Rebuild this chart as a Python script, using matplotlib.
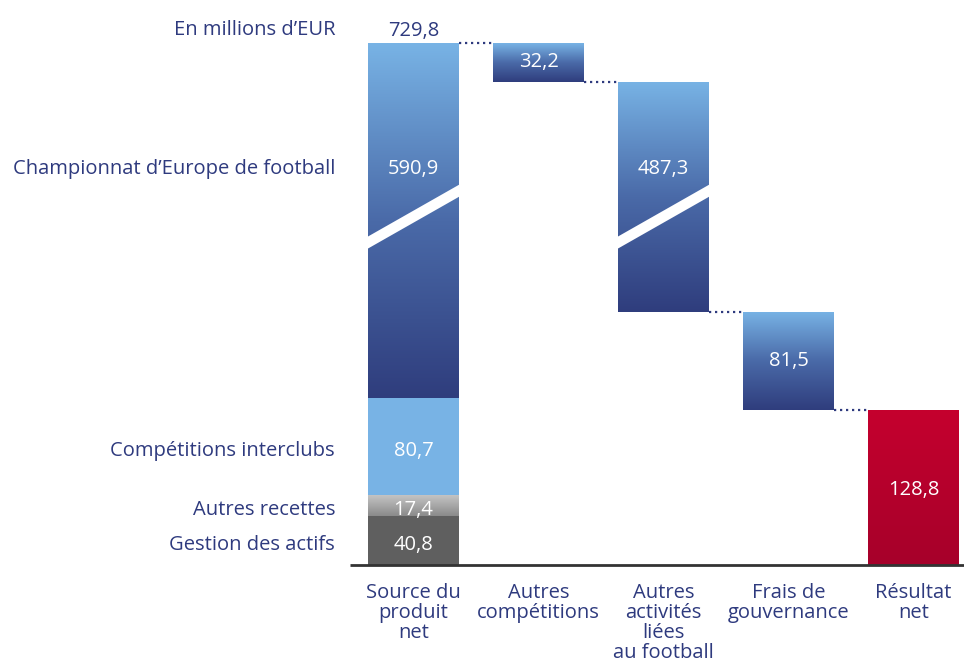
import matplotlib
matplotlib.use("Agg")
import matplotlib.pyplot as plt
import numpy as np
from matplotlib.colors import LinearSegmentedColormap
from matplotlib.patches import Polygon

plt.rcParams['font.family'] = ['Open Sans', 'DejaVu Sans']

# data (millions EUR)
unit_label = "En millions d’EUR"
source_labels = ["Gestion des actifs", "Autres recettes", "Compétitions interclubs",
                 "Championnat d’Europe de football"]
source_values = [40.8, 17.4, 80.7, 590.9]
total_revenue = 729.8
cost_labels = ["Autres\ncompétitions", "Autres\nactivités\nliées\nau football", "Frais de\ngouvernance"]
cost_values = [32.2, 487.3, 81.5]
net_result = 128.8
categories = ["Source du\nproduit\nnet"] + cost_labels + ["Résultat\nnet"]

# broken bars: a chunk of the value is cut out of the big bars
cut = 296.0
big = 400.0

navy = "#2e3a7e"
fs = 14.5
blue_grad = LinearSegmentedColormap.from_list("bg", ["#2f3d7d", "#4a6aa8", "#78b3e5"])
grey_grad = LinearSegmentedColormap.from_list("gg", ["#8a8a8a", "#c4c4c4"])
red_grad = LinearSegmentedColormap.from_list("rg", ["#a6002a", "#c5002e"])

fig = plt.figure(figsize=(9.64, 6.67), dpi=100)
ax = fig.add_axes([0, 0, 1, 1])
px = 1.2033  # pixels per display unit
ax.set_xlim(-413.5 / 125, (964 - 413.5) / 125)
ax.set_ylim(-(667 - 565) / px, 565 / px)
ax.axis("off")
w = 0.728


def shown(v):
    return v - cut if v > big else v


def fmt(v):
    return f"{v:.1f}".replace(".", ",")


def grad_bar(x, bottom, height, cmap):
    b = ax.bar(x, height, w, bottom=bottom, color="none", linewidth=0)[0]
    g = np.linspace(0, 1, 256).reshape(-1, 1)
    im = ax.imshow(g, cmap=cmap, origin="lower", aspect="auto",
                   extent=[x - w / 2, x + w / 2, bottom, bottom + height], zorder=2)
    im.set_clip_path(b)
    return b


def add_break(x):
    yl, yr, t = 268.0, 311.0, 10.0
    x0, x1 = x - w / 2, x + w / 2
    ax.add_patch(Polygon([[x0, yl - t / 2], [x1, yr - t / 2], [x1, yr + t / 2], [x0, yl + t / 2]],
                         closed=True, facecolor="white", edgecolor="none", zorder=3))


def connector(x, y):
    ax.plot([x - 1 + w / 2, x - w / 2], [y, y], color=navy, lw=1.6,
            ls=(0, (1.0, 1.7)), zorder=1)


# source bar (stack)
heights = [shown(v) for v in source_values]
bottoms = np.concatenate([[0], np.cumsum(heights)[:-1]])
ax.bar(0, heights[0], w, bottom=bottoms[0], color="#5f5f5f", zorder=2)
grad_bar(0, bottoms[1], heights[1], grey_grad)
ax.bar(0, heights[2], w, bottom=bottoms[2], color="#78b3e5", zorder=2)
grad_bar(0, bottoms[3], heights[3], blue_grad)
add_break(0)
top = bottoms[3] + heights[3]

for i in range(3):
    yc = bottoms[i] + heights[i] / 2 - 4
    ax.text(0, yc, fmt(source_values[i]), ha="center", va="center",
            color="white", fontsize=fs, zorder=4)
    ax.text(-0.628, yc, source_labels[i], ha="right", va="center",
            color=navy, fontsize=fs)
ax.text(0, 329, fmt(source_values[3]), ha="center", va="center",
        color="white", fontsize=fs, zorder=4)
ax.text(-0.628, 329, source_labels[3], ha="right", va="center", color=navy, fontsize=fs)
ax.text(0, top + 2, fmt(total_revenue), ha="center", va="bottom",
        color=navy, fontsize=fs)
ax.text(-0.628, top + 11, unit_label, ha="right", va="center", color=navy, fontsize=fs)

# cost bars (descending)
level = top
for i, v in enumerate(cost_values):
    x = i + 1
    h = shown(v)
    connector(x, level)
    grad_bar(x, level - h, h, blue_grad)
    if v > big:
        add_break(x)
        ty = 329
    else:
        ty = level - h / 2
    ax.text(x, ty, fmt(v), ha="center", va="center",
            color="white", fontsize=fs, zorder=4)
    level -= h

# net result
x = 4
connector(x, level)
grad_bar(x, 0, net_result, red_grad)
ax.text(x, net_result / 2 - 2, fmt(net_result), ha="center", va="center",
        color="white", fontsize=fs, zorder=4)

# baseline
ax.hlines(0, (350 - 413.5) / 125, (964 - 413.5) / 125, color="#333333", lw=2, zorder=5)

for i, c in enumerate(categories):
    ax.text(i, -15, c, ha="center", va="top", color=navy, fontsize=fs, linespacing=1.0)

fig.savefig("out.png", dpi=100)
